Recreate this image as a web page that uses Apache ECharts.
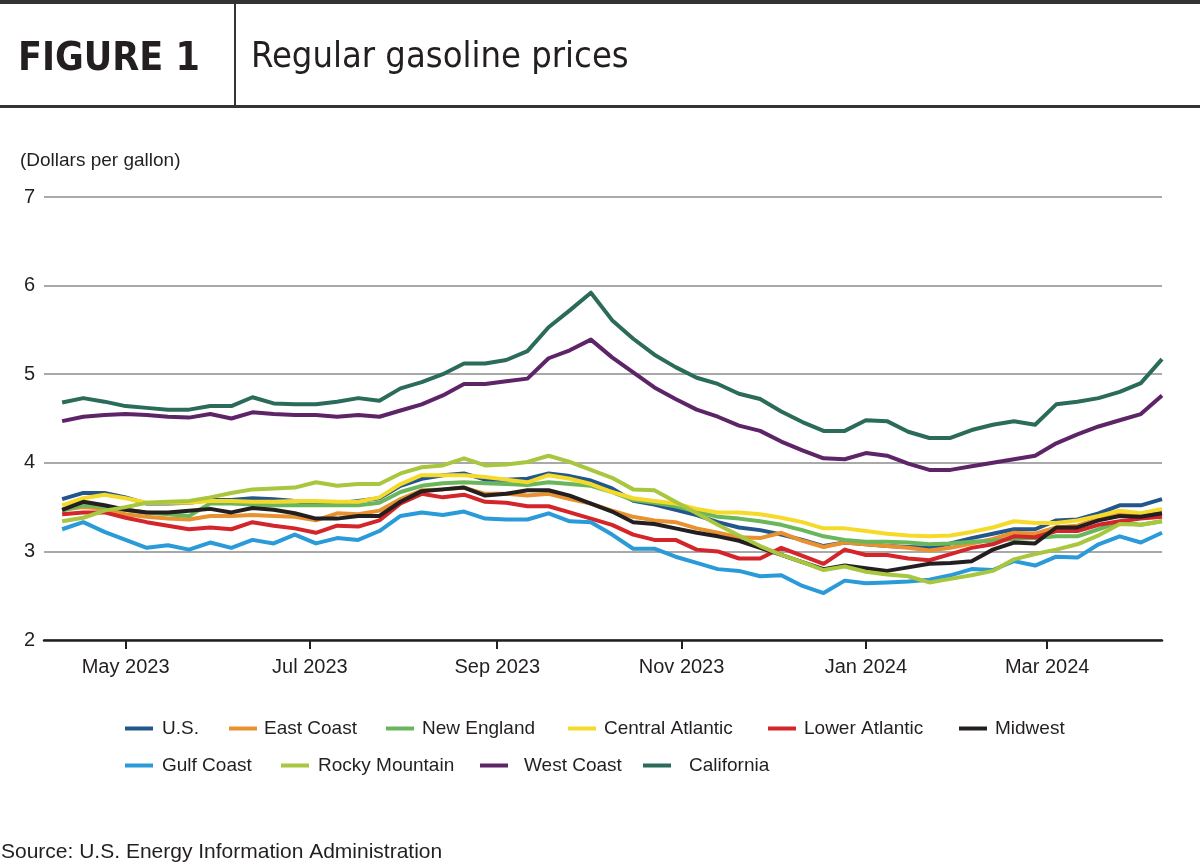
<!DOCTYPE html>
<html>
<head>
<meta charset="utf-8">
<title>Regular gasoline prices</title>
<script src="https://cdn.jsdelivr.net/npm/echarts@6/dist/echarts.min.js"></script>
<style>
  html, body { margin: 0; padding: 0; background: #fff; }
  #chart { width: 1200px; height: 865px; }
</style>
</head>
<body>
<div id="chart"></div>
<script>
// weekly EIA prices, Monday dates
const weeks = [
  '2023-04-10', '2023-04-17', '2023-04-24', '2023-05-01', '2023-05-08', '2023-05-15', '2023-05-22', '2023-05-29',
  '2023-06-05', '2023-06-12', '2023-06-19', '2023-06-26', '2023-07-03', '2023-07-10', '2023-07-17', '2023-07-24',
  '2023-07-31', '2023-08-07', '2023-08-14', '2023-08-21', '2023-08-28', '2023-09-04', '2023-09-11', '2023-09-18',
  '2023-09-25', '2023-10-02', '2023-10-09', '2023-10-16', '2023-10-23', '2023-10-30', '2023-11-06', '2023-11-13',
  '2023-11-20', '2023-11-27', '2023-12-04', '2023-12-11', '2023-12-18', '2023-12-25', '2024-01-01', '2024-01-08',
  '2024-01-15', '2024-01-22', '2024-01-29', '2024-02-05', '2024-02-12', '2024-02-19', '2024-02-26', '2024-03-04',
  '2024-03-11', '2024-03-18', '2024-03-25', '2024-04-01', '2024-04-08'
];

const usPrices = [3.59, 3.66, 3.66, 3.61, 3.54, 3.54, 3.55, 3.58, 3.58, 3.60, 3.59, 3.57, 3.53, 3.54, 3.57, 3.60, 3.74, 3.82, 3.86, 3.88, 3.81, 3.81, 3.82, 3.88, 3.85, 3.80, 3.71, 3.57, 3.53, 3.47, 3.41, 3.33, 3.27, 3.24, 3.19, 3.13, 3.06, 3.10, 3.08, 3.06, 3.05, 3.04, 3.09, 3.15, 3.20, 3.25, 3.25, 3.35, 3.36, 3.43, 3.52, 3.52, 3.59];
const eastCoast = [3.47, 3.50, 3.48, 3.42, 3.39, 3.37, 3.36, 3.40, 3.40, 3.41, 3.40, 3.39, 3.35, 3.43, 3.42, 3.46, 3.59, 3.69, 3.70, 3.72, 3.65, 3.65, 3.63, 3.65, 3.59, 3.54, 3.46, 3.39, 3.35, 3.33, 3.26, 3.21, 3.16, 3.15, 3.21, 3.12, 3.05, 3.10, 3.08, 3.06, 3.04, 3.01, 3.04, 3.09, 3.14, 3.21, 3.20, 3.27, 3.29, 3.37, 3.42, 3.41, 3.43];
const newEngland = [3.46, 3.52, 3.50, 3.47, 3.44, 3.42, 3.40, 3.54, 3.54, 3.53, 3.52, 3.52, 3.52, 3.52, 3.52, 3.55, 3.67, 3.74, 3.77, 3.78, 3.77, 3.76, 3.75, 3.78, 3.76, 3.74, 3.67, 3.58, 3.55, 3.51, 3.45, 3.39, 3.37, 3.34, 3.30, 3.24, 3.17, 3.13, 3.11, 3.11, 3.10, 3.08, 3.09, 3.11, 3.12, 3.14, 3.15, 3.17, 3.17, 3.25, 3.33, 3.30, 3.34];
const centralAtlantic = [3.52, 3.60, 3.64, 3.60, 3.55, 3.55, 3.55, 3.57, 3.57, 3.56, 3.56, 3.57, 3.57, 3.56, 3.56, 3.61, 3.76, 3.86, 3.86, 3.86, 3.84, 3.81, 3.78, 3.86, 3.82, 3.76, 3.67, 3.60, 3.57, 3.54, 3.48, 3.44, 3.44, 3.42, 3.38, 3.33, 3.26, 3.26, 3.23, 3.20, 3.18, 3.17, 3.18, 3.22, 3.27, 3.34, 3.32, 3.32, 3.35, 3.40, 3.46, 3.43, 3.48];
const lowerAtlantic = [3.42, 3.44, 3.44, 3.38, 3.33, 3.29, 3.25, 3.27, 3.25, 3.33, 3.29, 3.26, 3.21, 3.29, 3.28, 3.35, 3.54, 3.65, 3.61, 3.64, 3.56, 3.55, 3.51, 3.51, 3.44, 3.37, 3.30, 3.19, 3.13, 3.13, 3.02, 3.00, 2.92, 2.92, 3.04, 2.95, 2.86, 3.02, 2.96, 2.96, 2.92, 2.90, 2.97, 3.04, 3.08, 3.17, 3.16, 3.23, 3.23, 3.30, 3.34, 3.37, 3.39];
const midwest = [3.47, 3.56, 3.52, 3.47, 3.44, 3.44, 3.46, 3.48, 3.44, 3.49, 3.47, 3.43, 3.37, 3.37, 3.40, 3.40, 3.56, 3.68, 3.70, 3.72, 3.63, 3.65, 3.69, 3.69, 3.63, 3.54, 3.45, 3.33, 3.31, 3.26, 3.21, 3.17, 3.12, 3.04, 2.96, 2.88, 2.80, 2.84, 2.81, 2.78, 2.82, 2.86, 2.87, 2.89, 3.02, 3.10, 3.09, 3.27, 3.27, 3.35, 3.40, 3.39, 3.43];
const gulfCoast = [3.25, 3.33, 3.22, 3.13, 3.04, 3.07, 3.02, 3.10, 3.04, 3.13, 3.09, 3.19, 3.09, 3.15, 3.13, 3.23, 3.40, 3.44, 3.41, 3.45, 3.37, 3.36, 3.36, 3.43, 3.34, 3.33, 3.19, 3.03, 3.03, 2.94, 2.87, 2.80, 2.78, 2.72, 2.73, 2.61, 2.53, 2.67, 2.64, 2.65, 2.66, 2.68, 2.73, 2.80, 2.79, 2.89, 2.84, 2.94, 2.93, 3.08, 3.17, 3.10, 3.21];
const rockyMountain = [3.34, 3.38, 3.46, 3.50, 3.55, 3.56, 3.57, 3.61, 3.66, 3.70, 3.71, 3.72, 3.78, 3.74, 3.76, 3.76, 3.88, 3.95, 3.97, 4.05, 3.97, 3.98, 4.01, 4.08, 4.01, 3.92, 3.83, 3.70, 3.69, 3.56, 3.43, 3.30, 3.18, 3.06, 2.96, 2.88, 2.79, 2.83, 2.77, 2.74, 2.72, 2.65, 2.69, 2.73, 2.78, 2.91, 2.97, 3.02, 3.08, 3.18, 3.31, 3.30, 3.34];
const westCoast = [4.47, 4.52, 4.54, 4.55, 4.54, 4.52, 4.51, 4.55, 4.50, 4.57, 4.55, 4.54, 4.54, 4.52, 4.54, 4.52, 4.59, 4.66, 4.76, 4.89, 4.89, 4.92, 4.95, 5.18, 5.27, 5.39, 5.19, 5.02, 4.85, 4.72, 4.60, 4.52, 4.42, 4.36, 4.24, 4.14, 4.05, 4.04, 4.11, 4.08, 3.99, 3.92, 3.92, 3.96, 4.00, 4.04, 4.08, 4.22, 4.32, 4.41, 4.48, 4.55, 4.76];
const california = [4.68, 4.73, 4.69, 4.64, 4.62, 4.60, 4.60, 4.64, 4.64, 4.74, 4.67, 4.66, 4.66, 4.69, 4.73, 4.70, 4.84, 4.91, 5.00, 5.12, 5.12, 5.16, 5.26, 5.53, 5.72, 5.92, 5.61, 5.40, 5.22, 5.08, 4.96, 4.89, 4.78, 4.72, 4.58, 4.46, 4.36, 4.36, 4.48, 4.47, 4.35, 4.28, 4.28, 4.37, 4.43, 4.47, 4.43, 4.66, 4.69, 4.73, 4.80, 4.90, 5.17];

const seriesNames = ['U.S.', 'East Coast', 'New England', 'Central Atlantic', 'Lower Atlantic', 'Midwest',
  'Gulf Coast', 'Rocky Mountain', 'West Coast', 'California'];
const seriesValues = [usPrices, eastCoast, newEngland, centralAtlantic, lowerAtlantic, midwest,
  gulfCoast, rockyMountain, westCoast, california];
const seriesColors = ['#23568c', '#e8912f', '#69b75a', '#f6da2a', '#d3252a', '#231f20',
  '#2a9ad8', '#a8c63e', '#5d2467', '#2a6b59'];

const tickDates = ['2023-05-01', '2023-07-01', '2023-09-01', '2023-11-01', '2024-01-01', '2024-03-01'];
const yTicks = [2, 3, 4, 5, 6, 7];
const monthNames = ['Jan', 'Feb', 'Mar', 'Apr', 'May', 'Jun', 'Jul', 'Aug', 'Sep', 'Oct', 'Nov', 'Dec'];

const toTime = s => {
  const p = s.split('-').map(Number);
  return Date.UTC(p[0], p[1] - 1, p[2]);
};
const weekTimes = weeks.map(toTime);
const tickTimes = tickDates.map(toTime);

const textColor = '#231f20';
const baseFont = "'Liberation Sans', Arial, sans-serif";
const headFont = "'DejaVu Sans Condensed', 'Liberation Sans Narrow', sans-serif";

// legend is laid out by hand: [left, top, gap after swatch]
const legendSpots = [
  [125, 719, 4], [229, 719, 2], [386, 719, 3], [568, 719, 3], [768, 719, 3], [959, 719, 3],
  [125, 756, 4], [281, 756, 4], [480, 756, 11], [643, 756, 13]
];

const chart = echarts.init(document.getElementById('chart'), null, { renderer: 'canvas' });

const option = {
  animation: false,
  backgroundColor: '#fff',
  color: seriesColors,
  textStyle: { fontFamily: baseFont, color: textColor },
  grid: {
    left: 44,
    right: 38,
    top: 197,
    bottom: 225,
    containLabel: false,
    outerBoundsMode: 'none'
  },
  xAxis: {
    // plain numeric axis over UTC timestamps so ticks can sit on month starts
    type: 'value',
    min: toTime('2023-04-04'),
    max: toTime('2024-04-08'),
    axisLine: { show: true, onZero: false, lineStyle: { color: textColor, width: 2.5 } },
    axisTick: {
      show: true,
      customValues: tickTimes,
      length: 9,
      lineStyle: { color: textColor, width: 2 }
    },
    axisLabel: {
      customValues: tickTimes,
      margin: 17,
      fontSize: 20,
      color: textColor,
      fontFamily: baseFont,
      formatter: v => {
        const d = new Date(v);
        return monthNames[d.getUTCMonth()] + ' ' + d.getUTCFullYear();
      }
    },
    splitLine: { show: false }
  },
  yAxis: {
    type: 'value',
    min: yTicks[0],
    max: yTicks[yTicks.length - 1],
    interval: 1,
    axisLine: { show: false },
    axisTick: { show: false },
    axisLabel: { fontSize: 20, color: textColor, margin: 9, fontFamily: baseFont },
    splitLine: { lineStyle: { color: '#a9a9a9', width: 2 } }
  },
  legend: seriesNames.map((name, i) => ({
    data: [name],
    left: legendSpots[i][0],
    top: legendSpots[i][1],
    icon: 'rect',
    itemWidth: 28,
    itemHeight: 4,
    selectedMode: false,
    padding: 0,
    textStyle: {
      fontSize: 19,
      color: textColor,
      fontFamily: baseFont,
      padding: [0, 0, 0, legendSpots[i][2]]
    }
  })),
  series: seriesNames.map((name, i) => ({
    name: name,
    type: 'line',
    showSymbol: false,
    symbol: 'none',
    lineStyle: { width: 4, join: 'round' },
    data: weekTimes.map((t, k) => [t, seriesValues[i][k]])
  })),
  graphic: [
    { type: 'rect', left: 0, top: 0, shape: { width: 1200, height: 4 }, style: { fill: '#333' } },
    { type: 'rect', left: 0, top: 105, shape: { width: 1200, height: 3 }, style: { fill: '#333' } },
    { type: 'rect', left: 234, top: 4, shape: { width: 2, height: 101 }, style: { fill: '#333' } },
    {
      type: 'text', left: 18, top: 40,
      style: { text: 'FIGURE 1', fill: textColor, font: 'bold 39px ' + headFont }
    },
    {
      type: 'text', left: 251, top: 40,
      style: { text: 'Regular gasoline prices', fill: textColor, font: '36px ' + headFont }
    },
    {
      type: 'text', left: 20, top: 151,
      style: { text: '(Dollars per gallon)', fill: textColor, font: '19px ' + baseFont }
    },
    {
      type: 'text', left: 1, top: 842,
      style: { text: 'Source: U.S. Energy Information Administration', fill: textColor, font: '21px ' + baseFont }
    }
  ]
};

chart.setOption(option);
</script>
</body>
</html>
